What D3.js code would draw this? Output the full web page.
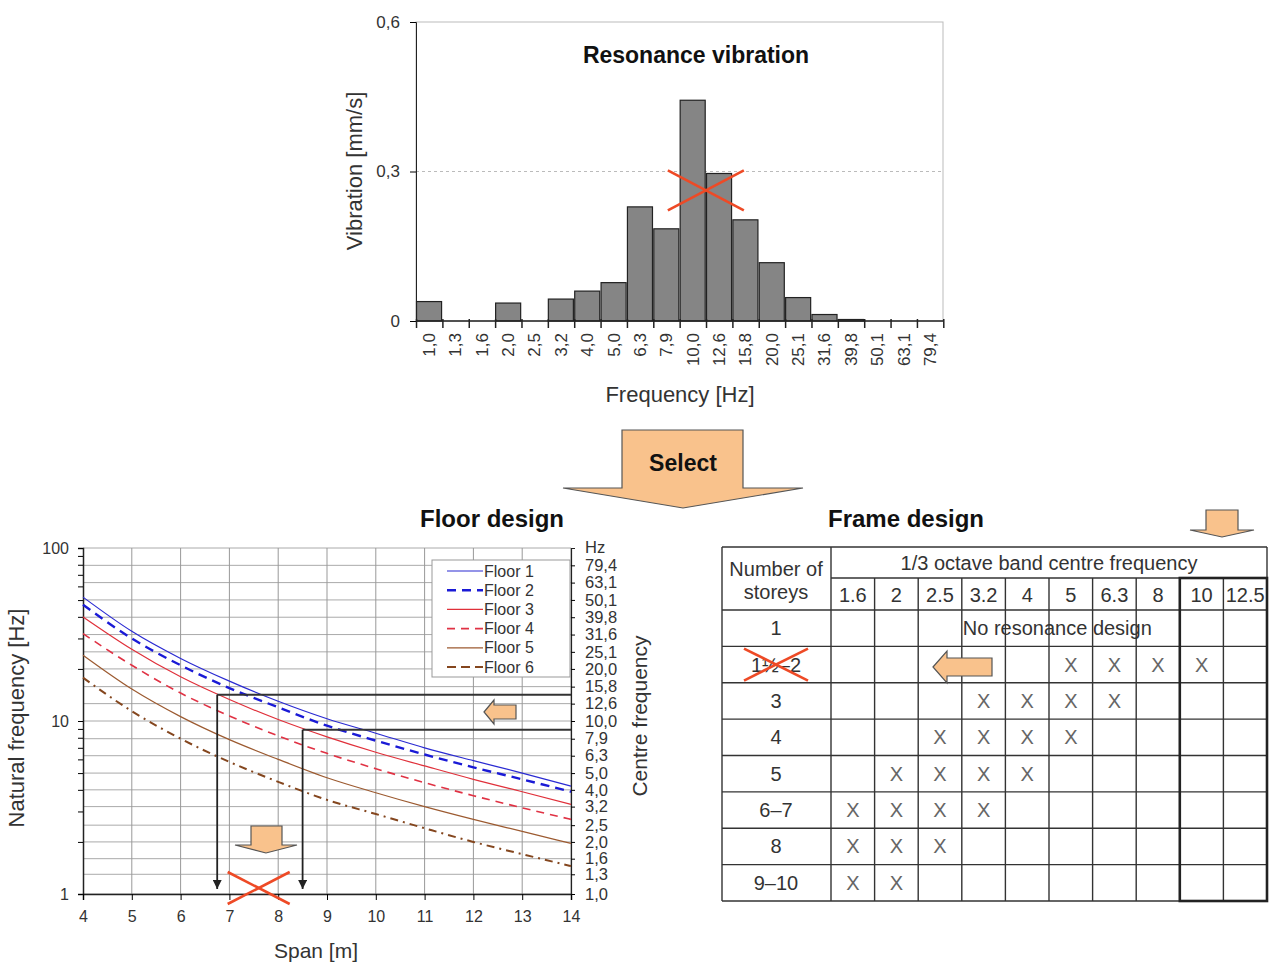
<!DOCTYPE html>
<html>
<head>
<meta charset="utf-8">
<script src="https://cdnjs.cloudflare.com/ajax/libs/d3/7.8.5/d3.min.js"></script>
<style>
  body { margin: 0; background: #fff; }
  text { font-family: "Liberation Sans", Arial, sans-serif; fill: #333; }
</style>
</head>
<body>
<svg id="fig" width="1269" height="963"></svg>
<script>
// ---- resonance vibration (1/3 octave bands) ----
const bandLabels = ["1,0","1,3","1,6","2,0","2,5","3,2","4,0","5,0","6,3","7,9",
                    "10,0","12,6","15,8","20,0","25,1","31,6","39,8","50,1","63,1","79,4"];
const vibration = [0.039,0,0,0.036,0,0.044,0.060,0.077,0.229,0.185,
                   0.443,0.296,0.203,0.117,0.047,0.013,0.003,0,0,0];

// ---- floor design: natural frequency vs span ----
const spans = [4,5,6,7,8,9,10,11,12,13,14];
const floorNames = ["Floor 1","Floor 2","Floor 3","Floor 4","Floor 5","Floor 6"];
const floor1 = [52,33,23,17,13,10.3,8.5,7.0,5.9,5.0,4.2];
const floor2 = [47,30,21,15.5,12,9.4,7.7,6.4,5.4,4.6,3.9];
const floor3 = [40,26,18,13.3,10.2,8.1,6.6,5.5,4.6,3.9,3.3];
const floor4 = [32,21,14.5,10.7,8.2,6.5,5.3,4.4,3.7,3.15,2.7];
const floor5 = [24,15.3,10.6,7.8,6.0,4.7,3.85,3.2,2.7,2.3,1.96];
const floor6 = [17.8,11.4,7.9,5.8,4.45,3.5,2.9,2.4,2.0,1.7,1.45];
const centreLabels = ["1,0","1,3","1,6","2,0","2,5","3,2","4,0","5,0","6,3","7,9",
                      "10,0","12,6","15,8","20,0","25,1","31,6","39,8","50,1","63,1","79,4"];
const selectSpans = [6.75, 8.5];
const selectFreqs = [14.2, 8.9];

// ---- frame design table ----
const storeys = ["1","1½–2","3","4","5","6–7","8","9–10"];
const octaveBands = ["1.6","2","2.5","3.2","4","5","6.3","8","10","12.5"];
const resonanceMarks = [
  [],
  ["5","6.3","8","10"],
  ["3.2","4","5","6.3"],
  ["2.5","3.2","4","5"],
  ["2","2.5","3.2","4"],
  ["1.6","2","2.5","3.2"],
  ["1.6","2","2.5"],
  ["1.6","2"]
];

const svg = d3.select("#fig");
const crossRed = "#ee4a26";
const peach = "#f9c28c";
const toNum = s => +s.replace(",", ".");

function drawCross(g, cx, cy, hw, hh) {
  g.append("line").attr("x1", cx - hw).attr("y1", cy - hh).attr("x2", cx + hw).attr("y2", cy + hh)
    .attr("stroke", crossRed).attr("stroke-width", 2.6);
  g.append("line").attr("x1", cx - hw).attr("y1", cy + hh).attr("x2", cx + hw).attr("y2", cy - hh)
    .attr("stroke", crossRed).attr("stroke-width", 2.6);
}

function drawArrow(pts) {
  svg.append("polygon")
    .attr("points", pts.map(p => p.join(",")).join(" "))
    .attr("fill", peach)
    .attr("stroke", "#555")
    .attr("stroke-width", 1.2);
}

function title(x, y, txt, size) {
  svg.append("text").attr("x", x).attr("y", y).attr("text-anchor", "middle")
    .attr("font-size", size).attr("font-weight", "bold").style("fill", "#111").text(txt);
}

// =============== top: bar chart ===============
const bx = d3.scaleBand().domain(bandLabels).range([416, 943]).paddingInner(0.05).paddingOuter(0.02);
const by = d3.scaleLinear().domain([0, 0.6]).range([321, 22]);
const topG = svg.append("g");

topG.append("rect").attr("x", 416).attr("y", 22).attr("width", 527).attr("height", 299)
  .attr("fill", "none").attr("stroke", "#bbb");
topG.append("line").attr("x1", 416).attr("x2", 943).attr("y1", by(0.3)).attr("y2", by(0.3))
  .attr("stroke", "#bbb").attr("stroke-dasharray", "3,3");

topG.selectAll(".bar").data(vibration).enter().append("rect")
  .attr("class", "bar")
  .attr("x", (d, i) => bx(bandLabels[i]))
  .attr("width", bx.bandwidth())
  .attr("y", d => by(d))
  .attr("height", d => by(0) - by(d))
  .attr("fill", "#858585")
  .attr("stroke", d => d > 0 ? "#222" : "none")
  .attr("stroke-width", 1.2);

const yAx = topG.append("g").attr("transform", "translate(416,0)")
  .call(d3.axisLeft(by).tickValues([0, 0.3, 0.6]).tickSize(6)
    .tickFormat(d => String(d).replace(".", ",")));
yAx.select(".domain").attr("stroke", "#222");
yAx.selectAll("text").attr("font-size", 17).attr("fill", "#444").attr("x", -16);

const xAx = topG.append("g").attr("transform", `translate(0,${by(0)})`)
  .call(d3.axisBottom(bx).tickSize(0));
xAx.select(".domain").attr("d", "M416,0H943").attr("stroke", "#222").attr("stroke-width", 1.5);
xAx.selectAll("text")
  .attr("font-size", 17).attr("fill", "#444")
  .attr("transform", "rotate(-90)")
  .attr("text-anchor", "end")
  .attr("x", -12).attr("y", 0).attr("dy", "0.35em");
// category boundary ticks
topG.selectAll(".btick").data(d3.range(bandLabels.length + 1)).enter().append("line")
  .attr("x1", i => 416 + i * bx.step() + bx.step() * 0.02)
  .attr("x2", i => 416 + i * bx.step() + bx.step() * 0.02)
  .attr("y1", by(0) - 2).attr("y2", by(0) + 7)
  .attr("stroke", "#222").attr("stroke-width", 1.5);

title(696, 63, "Resonance vibration", 23);
topG.append("text").attr("transform", "translate(362,171) rotate(-90)").attr("text-anchor", "middle")
  .attr("font-size", 22).attr("fill", "#444").text("Vibration [mm/s]");
topG.append("text").attr("x", 680).attr("y", 402).attr("text-anchor", "middle")
  .attr("font-size", 22).attr("fill", "#444").text("Frequency [Hz]");

// cross over the 10–12.6 Hz peak
drawCross(topG, bx("12,6") - bx.step() * 0.025, by(0.262), 38, 20);

// select arrow
drawArrow([[622,430],[743,430],[743,488],[803,488],[683,508],[563,488],[622,488]]);
title(683, 471, "Select", 23);

// =============== bottom left: floor design ===============
const fx = d3.scaleLinear().domain([4, 14]).range([83, 571]);
const fy = d3.scaleLog().domain([1, 100]).range([894, 548]);
const fl = svg.append("g");
const centreVals = centreLabels.map(toNum);

fl.selectAll(".hg").data(centreVals.concat([100])).enter().append("line")
  .attr("x1", fx(4)).attr("x2", fx(14)).attr("y1", d => fy(d)).attr("y2", d => fy(d))
  .attr("stroke", "#aaa").attr("stroke-width", 1);
fl.selectAll(".vg").data(spans.slice(1)).enter().append("line")
  .attr("x1", d => fx(d)).attr("x2", d => fx(d)).attr("y1", fy(100)).attr("y2", fy(1))
  .attr("stroke", "#999").attr("stroke-width", 1);

const logTicks = d3.range(0, 2).flatMap(e => d3.range(1, 10).map(m => m * Math.pow(10, e))).concat([100]);
const lAx = fl.append("g").attr("transform", `translate(${fx(4)},0)`)
  .call(d3.axisLeft(fy).tickValues(logTicks).tickSize(5)
    .tickFormat(d => [1, 10, 100].includes(d) ? d : ""));
lAx.select(".domain").attr("stroke", "#222").attr("stroke-width", 1.5);
lAx.selectAll("text").attr("font-size", 16).attr("fill", "#333").attr("x", -14);

const bAx = fl.append("g").attr("transform", `translate(0,${fy(1)})`)
  .call(d3.axisBottom(fx).tickValues(spans).tickSize(6).tickFormat(d3.format("d")));
bAx.select(".domain").attr("stroke", "#222").attr("stroke-width", 1.5);
bAx.selectAll("text").attr("font-size", 16).attr("fill", "#333").attr("y", 17);

const rAx = fl.append("g").attr("transform", `translate(${fx(14)},0)`)
  .call(d3.axisRight(fy).tickValues(centreVals).tickSize(4).tickFormat((d, i) => centreLabels[i]));
rAx.select(".domain").attr("stroke", "#222").attr("stroke-width", 1.2);
rAx.selectAll("text").attr("font-size", 16.5).attr("fill", "#333").attr("x", 14);
fl.append("text").attr("x", 585).attr("y", 553).attr("font-size", 16.5).text("Hz");

fl.append("text").attr("transform", "translate(24,718) rotate(-90)").attr("text-anchor", "middle")
  .attr("font-size", 22).attr("fill", "#444").text("Natural frequency [Hz]");
fl.append("text").attr("transform", "translate(647,716) rotate(-90)").attr("text-anchor", "middle")
  .attr("font-size", 21).attr("fill", "#444").text("Centre frequency");
fl.append("text").attr("x", 316).attr("y", 958).attr("text-anchor", "middle")
  .attr("font-size", 21).attr("fill", "#444").text("Span [m]");
title(492, 527, "Floor design", 24);

const floorSeries = [floor1, floor2, floor3, floor4, floor5, floor6];
const floorStyle = [
  { c: "#2a2ad2", w: 1.2, dash: null },
  { c: "#1a1ad6", w: 2.4, dash: "9,6" },
  { c: "#e0303a", w: 1.2, dash: null },
  { c: "#e03244", w: 1.6, dash: "8,6" },
  { c: "#9c5a30", w: 1.2, dash: null },
  { c: "#84461e", w: 2.0, dash: "8,5,2,5" }
];
const line = d3.line().x((d, i) => fx(spans[i])).y(d => fy(d)).curve(d3.curveMonotoneX);
fl.selectAll(".floor").data(floorSeries).enter().append("path")
  .attr("d", line).attr("fill", "none")
  .attr("stroke", (d, i) => floorStyle[i].c)
  .attr("stroke-width", (d, i) => floorStyle[i].w)
  .attr("stroke-dasharray", (d, i) => floorStyle[i].dash);

// legend
const lg = fl.append("g");
lg.append("rect").attr("x", 432).attr("y", 560).attr("width", 138).attr("height", 117)
  .attr("fill", "#fff").attr("stroke", "#999");
floorNames.forEach((name, i) => {
  const yy = 571 + i * 19.2;
  lg.append("line").attr("x1", 447).attr("x2", 483).attr("y1", yy).attr("y2", yy)
    .attr("stroke", floorStyle[i].c).attr("stroke-width", floorStyle[i].w)
    .attr("stroke-dasharray", i === 5 ? "9,5" : floorStyle[i].dash);
  lg.append("text").attr("x", 484).attr("y", yy + 5.5).attr("font-size", 16).attr("fill", "#333").text(name);
});

// selection lines from floor 3 curve
svg.append("defs").append("marker").attr("id", "ah").attr("viewBox", "0 0 10 10")
  .attr("refX", 10).attr("refY", 5).attr("markerWidth", 5).attr("markerHeight", 5)
  .attr("markerUnits", "strokeWidth").attr("orient", "auto")
  .append("path").attr("d", "M0,0L10,5L0,10z").attr("fill", "#222");
selectSpans.forEach((s, i) => {
  const x0 = fx(s), y0 = fy(selectFreqs[i]);
  fl.append("line").attr("x1", x0).attr("x2", fx(14)).attr("y1", y0).attr("y2", y0)
    .attr("stroke", "#333").attr("stroke-width", 2);
  fl.append("line").attr("x1", x0).attr("x2", x0).attr("y1", y0).attr("y2", fy(1) - 5)
    .attr("stroke", "#222").attr("stroke-width", 1.8).attr("marker-end", "url(#ah)");
});
drawArrow([[484,712],[494,700],[494,705],[516,705],[516,719],[494,719],[494,724]]);
drawArrow([[251,826],[282,826],[282,845],[297,845],[266,853],[235,845],[251,845]]);
drawCross(fl, fx(7.6), fy(1) - 6, 31, 16);

// =============== bottom right: frame design table ===============
const tb = svg.append("g");
const colX = d3.scaleBand().domain(octaveBands).range([831, 1267]);
const rowY = d3.scaleBand().domain(storeys).range([610, 901]);
const tLeft = 722, tTop = 547, hdrMid = 578;

title(906, 527, "Frame design", 24);
drawArrow([[1206,510],[1238,510],[1238,530],[1254,530],[1222,537],[1190,530],[1206,530]]);

const stroke = "#333";
// horizontal rules
tb.append("line").attr("x1", tLeft).attr("x2", 1267).attr("y1", tTop).attr("y2", tTop).attr("stroke", stroke).attr("stroke-width", 1.4);
tb.append("line").attr("x1", 831).attr("x2", 1267).attr("y1", hdrMid).attr("y2", hdrMid).attr("stroke", stroke).attr("stroke-width", 1.4);
tb.selectAll(".hr").data(storeys.map(s => rowY(s)).concat([901])).enter().append("line")
  .attr("x1", tLeft).attr("x2", 1267).attr("y1", d => d).attr("y2", d => d)
  .attr("stroke", stroke).attr("stroke-width", 1.4);
// vertical rules
[tLeft, 831, 1267].forEach(x => tb.append("line").attr("x1", x).attr("x2", x)
  .attr("y1", tTop).attr("y2", 901).attr("stroke", stroke).attr("stroke-width", 1.4));
tb.selectAll(".vr").data(octaveBands.slice(1)).enter().append("line")
  .attr("x1", d => colX(d)).attr("x2", d => colX(d)).attr("y1", hdrMid).attr("y2", 901)
  .attr("stroke", stroke).attr("stroke-width", 1.4);
// thick frame round 10 and 12.5 Hz
tb.append("rect").attr("x", colX("10")).attr("y", hdrMid)
  .attr("width", colX.bandwidth() * 2).attr("height", 901 - hdrMid)
  .attr("fill", "none").attr("stroke", "#222").attr("stroke-width", 2.6);

const tfs = 20;
tb.append("text").attr("x", 776).attr("y", 576).attr("text-anchor", "middle").attr("font-size", tfs).text("Number of");
tb.append("text").attr("x", 776).attr("y", 599).attr("text-anchor", "middle").attr("font-size", tfs).text("storeys");
tb.append("text").attr("x", 1049).attr("y", 570).attr("text-anchor", "middle").attr("font-size", tfs)
  .text("1/3 octave band centre frequency");
tb.selectAll(".bh").data(octaveBands).enter().append("text")
  .attr("x", d => colX(d) + colX.bandwidth() / 2).attr("y", 602)
  .attr("text-anchor", "middle").attr("font-size", tfs).text(d => d);
tb.selectAll(".sl").data(storeys).enter().append("text")
  .attr("x", 776).attr("y", d => rowY(d) + rowY.bandwidth() / 2 + 7)
  .attr("text-anchor", "middle").attr("font-size", tfs).text(d => d);

tb.append("text").attr("x", colX("3.2") + 1).attr("y", rowY("1") + rowY.bandwidth() / 2 + 7)
  .attr("font-size", tfs).text("No resonance design");

storeys.forEach((s, i) => {
  tb.selectAll(null).data(resonanceMarks[i]).enter().append("text")
    .attr("x", d => colX(d) + colX.bandwidth() / 2)
    .attr("y", rowY(s) + rowY.bandwidth() / 2 + 7)
    .attr("text-anchor", "middle").attr("font-size", tfs).style("fill", "#666").text("X");
});

drawCross(tb, 776, rowY("1½–2") + rowY.bandwidth() / 2, 32, 16);
drawArrow([[933,667],[947,651],[947,658],[992,658],[992,676],[947,676],[947,683]]);
</script>
</body>
</html>
